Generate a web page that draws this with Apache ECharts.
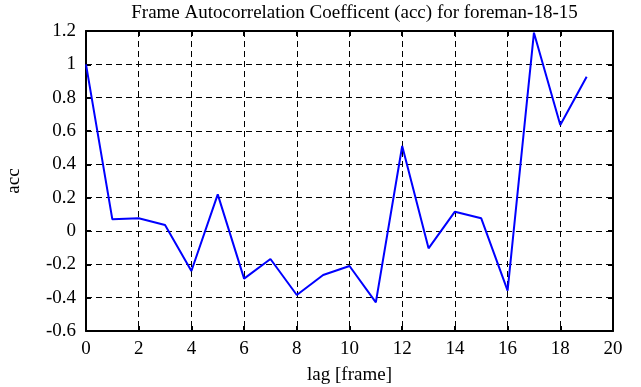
<!DOCTYPE html>
<html><head><meta charset="utf-8">
<script src="https://cdn.jsdelivr.net/npm/echarts@6/dist/echarts.min.js"></script>
<style>html,body{margin:0;padding:0;background:#fff}#c{width:641px;height:387px}</style>
</head><body><div id="c"></div>
<script>
const lags = [0,1,2,3,4,5,6,7,8,9,10,11,12,13,14,15,16,17,18,19];
const acc = [1.0,0.07,0.076,0.036,-0.24,0.22,-0.286,-0.168,-0.384,-0.264,-0.21,-0.428,0.51,-0.104,0.116,0.076,-0.358,1.19,0.636,0.926];
const titleText = 'Frame Autocorrelation Coefficent (acc) for foreman-18-15';
const xName = 'lag [frame]';
const yName = 'acc';

const font = 'Liberation Serif';
const fs = 19;
const chart = echarts.init(document.getElementById('c'));
const lineStyleAxis = {color:'#000', width:2};
const gridLine = {show:true, lineStyle:{color:'#000', type:[6,4], width:1}};
const tick = {show:true, inside:true, length:5, lineStyle:{color:'#000', width:2}};
chart.setOption({
  animation:false,
  backgroundColor:'#fff',
  title:{text:titleText, left:349.5, textAlign:'center', top:-1,
    textStyle:{fontFamily:font, fontWeight:'normal', fontSize:fs, color:'#000'}},
  grid:{left:86, right:28, top:31, bottom:56, containLabel:false, outerBoundsMode:'none'},
  xAxis:[{type:'value', min:0, max:20, interval:2,
    name:xName, nameLocation:'middle', nameGap:35,
    nameTextStyle:{fontFamily:font, fontSize:fs, color:'#000'},
    axisLine:{onZero:false, lineStyle:lineStyleAxis},
    axisTick:tick,
    axisLabel:{fontFamily:font, fontSize:fs, color:'#000', margin:9},
    splitLine:gridLine},
   {type:'value', position:'top', min:0, max:20, interval:2,
    axisLine:{show:true, onZero:false, lineStyle:lineStyleAxis},
    axisTick:tick,
    axisLabel:{show:false}, splitLine:{show:false}}],
  yAxis:[{type:'value', min:-0.6, max:1.2, interval:0.2,
    name:yName, nameLocation:'middle', nameGap:62,
    nameTextStyle:{fontFamily:font, fontSize:fs, color:'#000'},
    axisLine:{show:true, onZero:false, lineStyle:lineStyleAxis},
    axisTick:tick,
    axisLabel:{fontFamily:font, fontSize:fs, color:'#000', margin:10,
      formatter:v=>{const r=Math.round(v*10)/10; return String(r);}},
    splitLine:gridLine},
   {type:'value', position:'right', min:-0.6, max:1.2, interval:0.2,
    axisLine:{show:true, onZero:false, lineStyle:lineStyleAxis},
    axisTick:tick,
    axisLabel:{show:false}, splitLine:{show:false}}],
  series:[{type:'line', data:lags.map((l,i)=>[l,acc[i]]), showSymbol:false,
    lineStyle:{color:'#0000ff', width:2}, itemStyle:{color:'#0000ff'}}]
});
</script></body></html>
